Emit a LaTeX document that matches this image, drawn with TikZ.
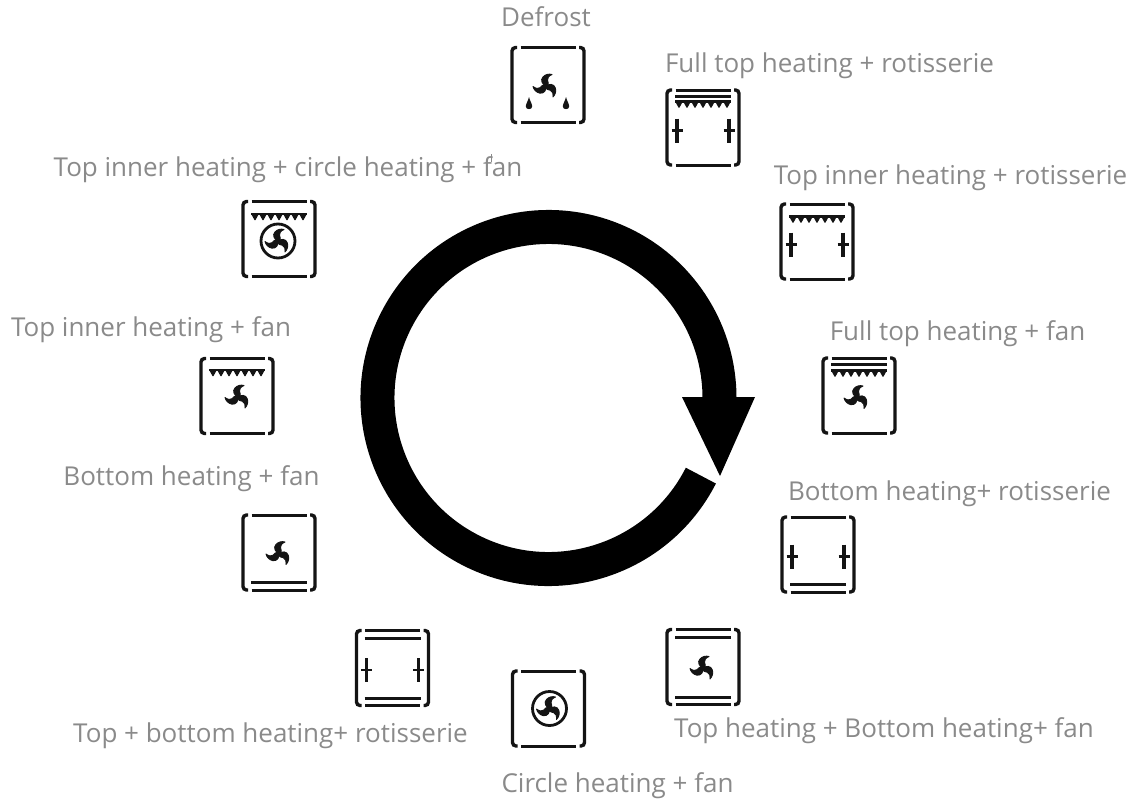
\documentclass[tikz,border=0pt]{standalone}
\usepackage{fontspec}
\setmainfont{Open Sans}
\definecolor{lab}{HTML}{8A8A8A}
\definecolor{ink}{HTML}{141414}
\tikzset{
  x=1pt,y=-1pt,
  lbl/.style={text=lab,inner sep=0pt,font=\fontsize{26}{30}\selectfont},
  ln/.style={draw=ink,line width=3pt},
  frameicon/.pic={
    \draw[ink,line width=3.4pt,rounded corners=3.5pt] (-31,-37.5)--(-36,-37.5)--(-36,37.5)--(-31,37.5);
    \draw[ink,line width=3.4pt,rounded corners=3.5pt] (31,-37.5)--(36,-37.5)--(36,37.5)--(31,37.5);
    \draw[ln] (-27.5,-37.5)--(27.5,-37.5);
    \draw[ln] (-27.5,37.5)--(27.5,37.5);
  },
  fanicon/.pic={
    \foreach \a in {0,120,240}{
      \filldraw[ink,line width=0.9pt,line join=round,rotate=\a] (1.5,1) .. controls (-4,-1) and (-6,-6) .. (-3,-9) .. controls (-1,-11.5) and (3,-12.5) .. (6,-11.5) .. controls (3,-10) and (1,-8.5) .. (1.5,-6) .. controls (2,-4) and (3,-2) .. (1.5,1) -- cycle;
    }
  },
  ringicon/.pic={\draw[ink,line width=2.8pt] (0,0) circle (17);},
  innericon/.pic={
    \draw[ink,line width=2.4pt] (-28,0)--(28,0);
    \foreach \k in {-24,-16,-8,0,8,16,24}{\fill[ink,rounded corners=1pt] (\k-3.8,0)--(\k+3.8,0)--(\k,7)--cycle;}
  },
  barline/.pic={\draw[ln] (-28,0)--(28,0);},
  spit/.pic={
    \draw[ink,line width=3.2pt] (0,-12)--(0,12);
    \draw[ink,line width=2.8pt] (-5.5,0)--(5.5,0);
  },
  dropicon/.pic={\fill[ink] (0,-7) .. controls (1,-3) and (3.2,0) .. (3.2,2.5) .. controls (3.2,6) and (-3.2,6) .. (-3.2,2.5) .. controls (-3.2,0) and (-1,-3) .. (0,-7) -- cycle;},
}
\begin{document}
\begin{tikzpicture}
\useasboundingbox (0,0) rectangle (1132,800);
% ring and arrow
\coordinate (c) at (548.5,398);
\draw[black,line width=34pt] (c) ++(27:171) arc (27:360:171);
\fill[black] (682,397)--(755,397)--(720,476)--cycle;
% labels
\node[lbl] (l1) at (546,17) {Defrost};
\node[lbl] (l2) at (829.5,66) {Full top heating + rotisserie};
\node[lbl] (l3) at (950.5,178) {Top inner heating + rotisserie};
\node[lbl] (l4) at (957.5,334) {Full top heating + fan};
\node[lbl] (l5) at (949.5,494) {Bottom heating+ rotisserie};
\node[lbl] (l6) at (884,731) {Top heating + Bottom heating+ fan};
\node[lbl] (l7) at (617.5,786) {Circle heating + fan};
\node[lbl] (l8) at (270.5,736) {Top + bottom heating+ rotisserie};
\node[lbl] (l9) at (191.5,479) {Bottom heating + fan};
\node[lbl] (l10) at (151,330) {Top inner heating + fan};
\node[lbl] (l11) at (288,170) {Top inner heating + circle heating + fan};
\draw[lab,line width=1pt] (491,154)--(491,162);
% icons
\begin{scope}[shift={(548,85)}]
  \pic {frameicon}; \pic at (-2,1) {fanicon}; \pic at (-19,19) {dropicon}; \pic at (18,19) {dropicon};
\end{scope}
\begin{scope}[shift={(703,127.5)}]
  \pic {frameicon}; \pic at (0,-31) {barline}; \pic at (0,-26) {innericon}; \pic at (-26,3) {spit}; \pic at (26,3) {spit};
\end{scope}
\begin{scope}[shift={(817,241.5)}]
  \pic {frameicon}; \pic at (0,-25) {innericon}; \pic at (-26,3) {spit}; \pic at (26,3) {spit};
\end{scope}
\begin{scope}[shift={(859,395.5)}]
  \pic {frameicon}; \pic at (0,-31) {barline}; \pic at (0,-25) {innericon}; \pic at (-2,2) {fanicon};
\end{scope}
\begin{scope}[shift={(818,554.5)}]
  \pic {frameicon}; \pic at (-26,2) {spit}; \pic at (26,2) {spit}; \pic at (0,30) {barline};
\end{scope}
\begin{scope}[shift={(703,667)}]
  \pic {frameicon}; \pic at (0,-30) {barline}; \pic at (0,30) {barline}; \pic at (0,1) {fanicon};
\end{scope}
\begin{scope}[shift={(548.5,708.5)}]
  \pic {frameicon}; \pic at (1,0) {ringicon}; \pic at (1,0) {fanicon};
\end{scope}
\begin{scope}[shift={(392.5,668)}]
  \pic {frameicon}; \pic at (0,-30) {barline}; \pic at (0,30) {barline}; \pic at (-26,2) {spit}; \pic at (26,2) {spit};
\end{scope}
\begin{scope}[shift={(279,552.5)}]
  \pic {frameicon}; \pic at (0,30) {barline}; \pic at (0,1) {fanicon};
\end{scope}
\begin{scope}[shift={(237,396)}]
  \pic {frameicon}; \pic at (0,-26) {innericon}; \pic at (1,1) {fanicon};
\end{scope}
\begin{scope}[shift={(279,239)}]
  \pic {frameicon}; \pic at (0,-25) {innericon}; \pic at (-1,2) {ringicon}; \pic at (-1,2) {fanicon};
\end{scope}
\end{tikzpicture}
\end{document}
